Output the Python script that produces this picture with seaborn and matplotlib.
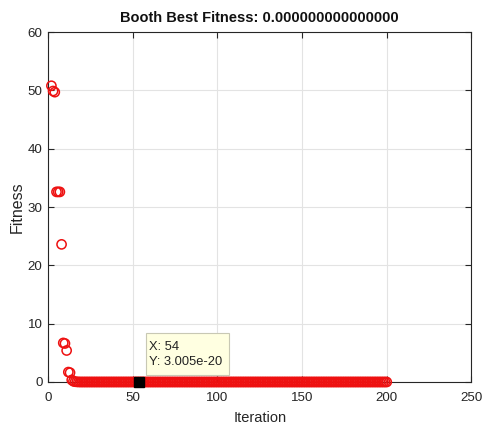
import numpy as np
import pandas as pd
import matplotlib
matplotlib.use("Agg")
import matplotlib.pyplot as plt
import seaborn as sns
from matplotlib.patches import Rectangle

# Data
head_iters = [2, 3, 4, 5, 6, 7, 8, 9, 10, 11, 12, 13, 14, 15, 16, 17, 18]
head_fitness = [50.8, 49.9, 49.7, 32.6, 32.6, 32.6, 23.6, 6.7, 6.6, 5.4, 1.7, 1.6, 0.35, 0.12, 0.05, 0.02, 0.01]
tail_iters = list(range(19, 201))
tail_fitness = [0.0] * len(tail_iters)

tip_iter = 54
tip_label = "X: 54\nY: 3.005e-20"
title = "Booth Best Fitness: 0.000000000000000"
xticks = [0, 50, 100, 150, 200, 250]
yticks = [0, 10, 20, 30, 40, 50, 60]

df = pd.DataFrame({"Iteration": head_iters + tail_iters,
                   "Fitness": head_fitness + tail_fitness})

sns.set_theme(style="whitegrid")
plt.rcParams['font.family'] = ['Liberation Sans', 'DejaVu Sans']

fig = plt.figure(figsize=(4.85, 4.28), dpi=100)
fig.patch.set_facecolor("white")
ax = fig.add_axes([0.099, 0.1075, 0.873, 0.8175])
ax.set_facecolor("white")

sns.scatterplot(data=df, x="Iteration", y="Fitness", ax=ax, marker="o", s=44,
                fc="none", ec="#EE1111", linewidth=1.1, zorder=3, clip_on=False)

# data tip marker
tip_y = df.loc[df["Iteration"] == tip_iter, "Fitness"].values[0]
ax.plot([tip_iter], [tip_y], marker="s", color="black", ms=6.5, zorder=5, clip_on=False)
ax.add_patch(Rectangle((57.8, 1.2), 49.0, 7.2, facecolor="#FFFFE1",
                       edgecolor="#C8C8B4", linewidth=0.8, zorder=6))
ax.text(59.8, 4.75, tip_label, fontsize=9.3, va="center", ha="left",
        color="#222222", zorder=7, linespacing=1.3)

ax.set_xlim(0, 250)
ax.set_ylim(0, 60)
ax.set_xticks(xticks)
ax.set_yticks(yticks)
ax.grid(True, color="#E3E3E3", linewidth=0.8)
ax.set_axisbelow(True)
for s in ax.spines.values():
    s.set_color("#262626")
    s.set_linewidth(0.8)
    s.set_visible(True)
ax.tick_params(direction="in", length=4, width=0.8, colors="#262626",
               labelsize=9.6, top=True, right=True, bottom=True, left=True,
               labelcolor="#262626")
ax.tick_params(axis="x", pad=7)
ax.tick_params(axis="y", pad=4)
ax.set_xlabel("Iteration", fontsize=10.5, color="#262626", labelpad=5)
ax.set_ylabel("Fitness", fontsize=11.5, color="#262626", labelpad=2)
ax.set_title(title, fontsize=10.5, fontweight="bold", color="#111111", pad=7)

fig.savefig("out.png", dpi=100, facecolor="white")
